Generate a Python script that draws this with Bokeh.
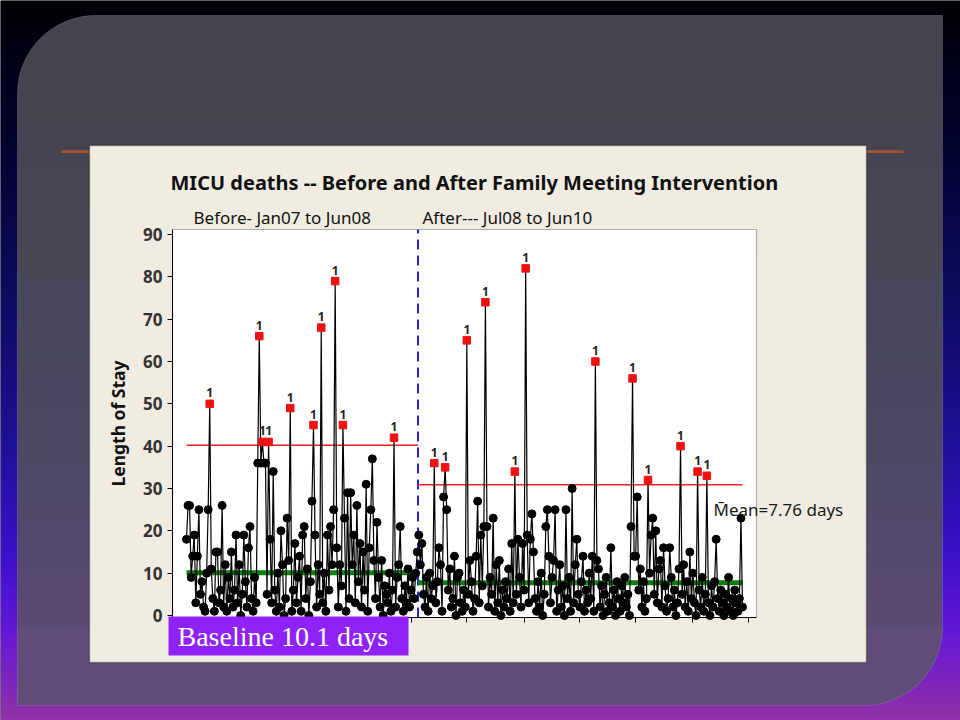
import numpy as np
from bokeh.plotting import figure
from bokeh.models import Range1d, BoxAnnotation, Label, FixedTicker, LinearAxis
from bokeh.core.properties import value
from bokeh.embed import file_html
from bokeh.resources import INLINE

# ---------------- data ----------------
BEFORE_LOS = [
    18, 26, 26, 9, 14, 19, 3, 14, 25, 5,
    8, 2, 1, 10, 25, 50, 11, 4, 1, 15,
    15, 3, 6, 26, 2, 12, 1, 9, 4, 15,
    2, 6, 19, 3, 12, 0, 5, 19, 8, 2,
    16, 21, 4, 1, 9, 3, 36, 66, 36, 41,
    36, 36, 5, 41, 18, 3, 34, 6, 1, 10,
    2, 20, 12, 0, 4, 23, 13, 49, 1, 6,
    17, 3, 9, 14, 1, 19, 21, 4, 11, 0,
    8, 27, 45, 19, 2, 12, 5, 68, 3, 10,
    1, 19, 6, 21, 12, 25, 79, 16, 2, 12,
    7, 45, 23, 1, 29, 4, 29, 12, 19, 3,
    26, 8, 17, 2, 15, 6, 31, 1, 16, 25,
    37, 13, 4, 22, 9, 2, 13, 0, 7, 5,
    3, 10, 1, 6, 42, 2, 9, 12, 21, 4,
    1, 7, 3, 11, 2, 6, 9, 4, 10, 15,
]
AFTER_LOS = [
    19, 12, 17, 5, 2, 9, 1, 10, 4, 7,
    36, 3, 8, 16, 12, 1, 28, 35, 25, 6,
    11, 2, 4, 14, 0, 9, 10, 3, 1, 6,
    2, 65, 5, 13, 8, 1, 4, 14, 27, 3,
    19, 7, 21, 74, 21, 2, 9, 5, 23, 1,
    12, 3, 13, 0, 6, 2, 8, 4, 11, 1,
    17, 3, 34, 5, 18, 9, 2, 17, 6, 82,
    19, 3, 18, 24, 15, 4, 1, 8, 2, 10,
    0, 5, 21, 25, 14, 3, 9, 13, 25, 1,
    6, 12, 2, 7, 0, 25, 4, 9, 1, 30,
    3, 12, 18, 5, 2, 8, 14, 1, 6, 3,
    10, 4, 14, 1, 60, 13, 11, 2, 7, 0,
    5, 9, 1, 3, 16, 2, 6, 0, 8, 4,
    1, 7, 3, 9, 2, 5, 0, 21, 56, 14,
    14, 28, 6, 11, 2, 8, 1, 4, 32, 10,
    19, 23, 5, 20, 3, 11, 13, 2, 16, 7,
    1, 4, 16, 9, 2, 6, 0, 3, 11, 40,
    5, 12, 2, 8, 1, 15, 4, 10, 3, 0,
    34, 6, 2, 9, 1, 5, 33, 3, 0, 7,
    2, 8, 18, 4, 1, 6, 3, 0, 5, 2,
    9, 1, 4, 0, 6, 3, 1, 4, 23, 2,
]
BEFORE_MEAN = 10.1
AFTER_MEAN = 7.76
BEFORE_UCL = 40.2
AFTER_UCL = 30.9
Y_TICKS = [0, 10, 20, 30, 40, 50, 60, 70, 80, 90]
X_TICKS = [0, 36, 73, 109, 146, 182, 219, 255, 291, 328, 364]

TITLE = "MICU deaths -- Before and After Family Meeting Intervention"
BEFORE_TEXT = "Before- Jan07 to Jun08"
AFTER_TEXT = "After---  Jul08 to Jun10"
Y_LABEL = "Length of Stay"
MEAN_TEXT = "M\u0304ean=7.76 days"
BASELINE_TEXT = "Baseline  10.1 days"
FLAG_TEXT = "1"

# ---------------- layout (page pixels) ----------------
W, H = 960, 720
FL, FR, FT, FB = 172, 756, 229, 617          # chart plot area on the page
X_FIRST_PX, X_LAST_PX = 186, 742
Y0_PX, Y90_PX = 615, 234

nb, na = len(BEFORE_LOS), len(AFTER_LOS)
N = nb + na
kx = (X_LAST_PX - X_FIRST_PX) / (N - 1)
ky = (Y0_PX - Y90_PX) / 90.0
XS = 1 - X_FIRST_PX / kx
XE = XS + W / kx
YS = -(H - Y0_PX) / ky
YE = YS + H / ky


def dx(X):
    return XS + X / kx


def dy(Y):
    return YS + (H - Y) / ky


p = figure(width=W, height=H, x_range=Range1d(XS, XE), y_range=Range1d(YS, YE),
           output_backend="svg", toolbar_location=None,
           x_axis_location=None, y_axis_location=None, min_border=0,
           background_fill_color="#000006", border_fill_color="#000006",
           outline_line_color=None)
p.grid.visible = False


def box(xl, xr, yt, yb, color, level="underlay", **kw):
    b = BoxAnnotation(left=dx(xl), right=dx(xr), top=dy(yt), bottom=dy(yb),
                      fill_color=color, fill_alpha=1.0, level=level, **kw)
    if "line_color" not in kw:
        b.line_color = None
    p.add_layout(b)
    return b


def interp(stops, y):
    if y <= stops[0][0]:
        c = stops[0][1]
    elif y >= stops[-1][0]:
        c = stops[-1][1]
    else:
        for (y0, c0), (y1, c1) in zip(stops, stops[1:]):
            if y0 <= y <= y1:
                t = (y - y0) / (y1 - y0)
                c = tuple(a + (b - a) * t for a, b in zip(c0, c1))
                break
    return "#%02x%02x%02x" % tuple(int(round(v)) for v in c)


BG_STOPS = [(0, (0, 0, 6)), (120, (2, 2, 40)), (300, (12, 12, 98)), (450, (32, 16, 155)),
            (560, (62, 16, 205)), (630, (100, 22, 215)), (690, (130, 40, 185)), (720, (145, 50, 165))]
PANEL_STOPS = [(15, (67, 67, 76)), (200, (70, 70, 84)), (400, (74, 72, 95)),
               (550, (85, 73, 110)), (705, (98, 78, 122))]

# slide background gradient
for yy in range(0, 720, 6):
    box(0, 960, yy, yy + 6.6, interp(BG_STOPS, yy + 3))

# grey rounded panel
PX0, PX1, PY0, PY1, R = 17, 942, 15, 705, 78
box(PX0, PX1, PY0, PY0 + R + 0.6, interp(PANEL_STOPS, PY0 + R / 2), border_radius=(R, 0, 0, 0))
for yy in range(PY0 + R, PY1 - R, 5):
    box(PX0, PX1, yy, min(yy + 5.6, PY1 - R + 0.6), interp(PANEL_STOPS, yy + 2.5))
box(PX0, PX1, PY1 - R, PY1, interp(PANEL_STOPS, PY1 - R / 2), border_radius=(0, 0, R, 0))
p.add_layout(BoxAnnotation(left=dx(PX0), right=dx(PX1), top=dy(PY0), bottom=dy(PY1),
                           fill_color=None, line_color="#9c9aac", line_width=1, level="underlay",
                           border_radius=(R, 0, R, 0)))

# orange rule and chart image box
box(61, 903, 149.8, 152.6, "#a4532c")
box(89, 866, 145, 662, "#f0ece1", line_color="black", line_width=1.5)
box(FL, FR, FT, FB, "#ffffff", line_color="black", line_width=1.2)

# axes (drawn at fixed positions inside the page)
yax = LinearAxis(fixed_location=dx(FL), bounds=(dy(FB), dy(FT)),
                 ticker=FixedTicker(ticks=Y_TICKS))
yax.major_tick_out = 5
yax.major_tick_in = 0
yax.minor_tick_line_color = None
yax.axis_line_color = "black"
yax.major_tick_line_color = "black"
yax.major_label_text_font = "Noto Sans"
yax.major_label_text_font_style = "bold"
yax.major_label_text_font_size = "17px"
yax.major_label_text_color = "#333333"
yax.major_label_standoff = 5
yax.axis_label = Y_LABEL
yax.axis_label_text_font = "Noto Sans"
yax.axis_label_text_font_style = "bold"
yax.axis_label_text_font_size = "17.5px"
yax.axis_label_text_color = "#111111"
yax.axis_label_standoff = 10
p.add_layout(yax, "left")

xax = LinearAxis(fixed_location=dy(FB), bounds=(dx(FL), dx(FR)),
                 ticker=FixedTicker(ticks=X_TICKS))
xax.major_tick_out = 5
xax.major_tick_in = 0
xax.minor_tick_line_color = None
xax.axis_line_color = "black"
xax.major_tick_line_color = "black"
xax.major_label_overrides = {t: "" for t in X_TICKS}
xax.major_label_text_font_size = "1px"
p.add_layout(xax, "below")

# ---------------- chart marks ----------------
xb = np.arange(1, nb + 1)
xa = np.arange(nb + 1, N + 1)
yb = np.array(BEFORE_LOS, dtype=float)
ya = np.array(AFTER_LOS, dtype=float)
split = nb + 0.5

# phase divider (dashed), spanning the chart's plot area
p.segment(x0=[split], y0=[dy(FB)], x1=[split], y1=[dy(FT)],
          line_color="#2424cc", line_width=2, line_dash="10 6")

# control limits and centre lines
p.line([1, split], [BEFORE_UCL, BEFORE_UCL], line_color="#ee2222", line_width=1.5)
p.line([split, N], [AFTER_UCL, AFTER_UCL], line_color="#ee2222", line_width=1.5)
p.line([1, split], [BEFORE_MEAN, BEFORE_MEAN], line_color="#0c820c", line_width=5)
p.line([split, N], [AFTER_MEAN, AFTER_MEAN], line_color="#0c820c", line_width=5)

# series
p.line(xb, yb, line_color="black", line_width=1.2)
p.line(xa, ya, line_color="black", line_width=1.2)

flag_b = yb > BEFORE_UCL
flag_a = ya > AFTER_UCL
xs_ok = np.concatenate([xb[~flag_b], xa[~flag_a]])
ys_ok = np.concatenate([yb[~flag_b], ya[~flag_a]])
xs_fl = np.concatenate([xb[flag_b], xa[flag_a]])
ys_fl = np.concatenate([yb[flag_b], ya[flag_a]])

p.scatter(xs_ok, ys_ok, marker="circle", size=8, fill_color="black", line_color="black")
p.scatter(xs_fl, ys_fl, marker="square", size=7.5, fill_color="#ee1111", line_color="#ee1111")
p.text(xs_fl, ys_fl, text=[FLAG_TEXT] * len(xs_fl), y_offset=-11,
       text_align="center", text_baseline="alphabetic",
       text_font=value("Noto Sans"), text_font_style="bold",
       text_font_size="12px", text_color="#222222")


def label(X, Y, text, size, bold=False, color="#111111", font="Noto Sans"):
    p.add_layout(Label(x=dx(X), y=dy(Y), x_units="data", y_units="data", text=text,
                       text_font=font, text_font_size=size,
                       text_font_style="bold" if bold else "normal",
                       text_color=color, text_align="left", text_baseline="alphabetic"))


label(170, 181.5, TITLE, "20px", bold=True)
label(193, 216.5, BEFORE_TEXT, "17px")
label(422, 216.5, AFTER_TEXT, "17px")
label(713, 509, MEAN_TEXT, "17px", color="#1a1a1a")

# purple baseline call-out
p.add_layout(BoxAnnotation(left=dx(168), right=dx(408), top=dy(616), bottom=dy(655),
                           fill_color="#8e22f7", fill_alpha=1.0, line_color=None))
label(177, 635.5, BASELINE_TEXT, "28px", color="white", font="Liberation Serif")

open("out.html", "w").write(file_html(p, INLINE))
